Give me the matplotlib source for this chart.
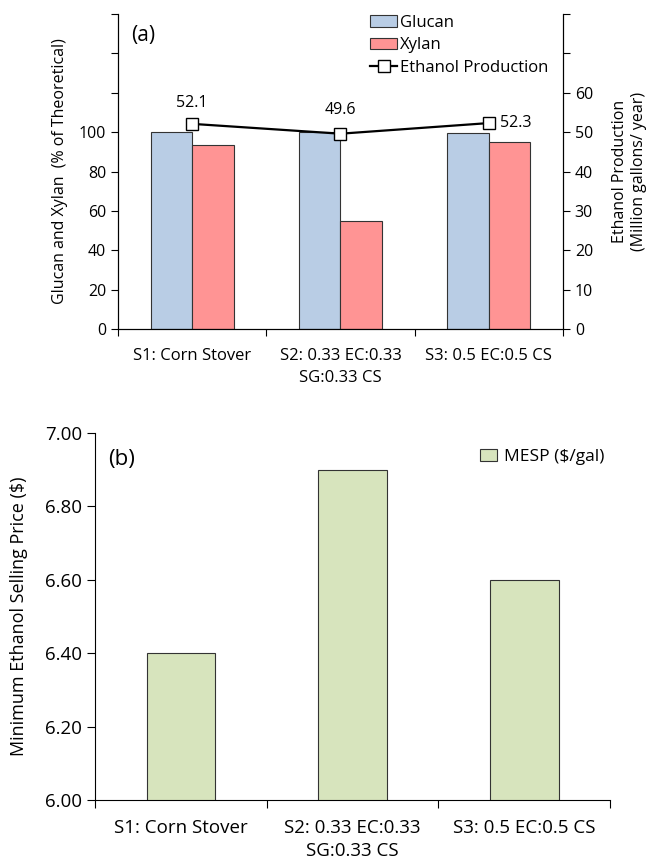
import matplotlib.pyplot as plt
import numpy as np

plt.rcParams['font.family'] = ['Open Sans', 'DejaVu Sans']

scenarios = ['S1: Corn Stover', 'S2: 0.33 EC:0.33\nSG:0.33 CS', 'S3: 0.5 EC:0.5 CS']
glucan = [100, 100, 99.5]
xylan = [93.5, 55, 95]
ethanol = [52.1, 49.6, 52.3]
mesp = [6.40, 6.90, 6.60]

blue = '#b9cde5'
red = '#ff9494'
green = '#d7e4bd'

fig = plt.figure(figsize=(6.54, 8.64), dpi=100)

# (a) glucan / xylan with ethanol on twin axis
ax1 = fig.add_axes([0.1804, 0.6192, 0.6804, 0.3646])
x = np.arange(len(scenarios))
w = 0.28
ax1.bar(x - w/2, glucan, w, color=blue, edgecolor='#333333', linewidth=0.8, label='Glucan')
ax1.bar(x + w/2, xylan, w, color=red, edgecolor='#333333', linewidth=0.8, label='Xylan')
ax1.set_xlim(-0.5, 2.5)
ax1.set_ylim(0, 160)
ax1.set_yticks(range(0, 161, 20))
ax1.set_yticklabels([str(v) if v <= 100 else '' for v in range(0, 161, 20)])
ax1.set_xticks([-0.5, 0.5, 1.5, 2.5], minor=False)
ax1.set_xticklabels([])
ax1.set_xticks(x, minor=True)
ax1.set_xticklabels(scenarios, minor=True, fontsize=12, linespacing=1.5)
ax1.tick_params(axis='x', which='minor', length=0, pad=14)
ax1.tick_params(axis='x', which='major', length=5)
ax1.tick_params(axis='y', labelsize=11.5, length=5)
ax1.spines['top'].set_visible(False)
ax1.set_ylabel('Glucan and Xylan  (% of Theoretical)', fontsize=11.5, labelpad=8)
ax1.text(0.03, 0.965, '(a)', transform=ax1.transAxes, fontsize=15, va='top')

ax2 = ax1.twinx()
ax2.plot(x, ethanol, color='black', lw=1.6, marker='s', markersize=9,
         markerfacecolor='white', markeredgecolor='black', label='Ethanol Production')
ax2.set_ylim(0, 80)
ax2.set_yticks(range(0, 81, 10))
ax2.set_yticklabels([str(v) if v <= 60 else '' for v in range(0, 81, 10)])
ax2.tick_params(axis='y', labelsize=11.5, length=5)
ax2.spines['top'].set_visible(False)
ax2.set_ylabel('Ethanol Production\n(Million gallons/ year)', fontsize=11.5, labelpad=14)
ax2.annotate(f'{ethanol[0]}', (x[0], ethanol[0]), xytext=(0, 12), textcoords='offset points',
             ha='center', fontsize=11.5)
ax2.annotate(f'{ethanol[1]}', (x[1], ethanol[1]), xytext=(0, 14), textcoords='offset points',
             ha='center', fontsize=11.5)
ax2.annotate(f'{ethanol[2]}', (x[2], ethanol[2]), xytext=(8, 0), textcoords='offset points',
             ha='left', va='center', fontsize=11.5)

h1, l1 = ax1.get_legend_handles_labels()
h2, l2 = ax2.get_legend_handles_labels()
ax1.legend(h1 + h2, l1 + l2, loc='upper right', bbox_to_anchor=(1.0, 1.045), frameon=False,
           fontsize=12, handlelength=1.6, handletextpad=0.15, labelspacing=0.4)

# (b) MESP
ax3 = fig.add_axes([0.1453, 0.0741, 0.7875, 0.4248])
ax3.bar(x, mesp, 0.4, color=green, edgecolor='#333333', linewidth=0.8, label='MESP ($/gal)')
ax3.set_xlim(-0.5, 2.5)
ax3.set_ylim(6.0, 7.0)
ax3.set_yticks(np.arange(6.0, 7.01, 0.2))
ax3.set_yticklabels([f'{v:.2f}' for v in np.arange(6.0, 7.01, 0.2)])
ax3.set_xticks([-0.5, 0.5, 1.5, 2.5])
ax3.set_xticklabels([])
ax3.set_xticks(x, minor=True)
ax3.set_xticklabels(scenarios, minor=True, fontsize=13.5, linespacing=1.35)
ax3.tick_params(axis='x', which='minor', length=0, pad=14)
ax3.tick_params(axis='x', which='major', length=6)
ax3.tick_params(axis='y', labelsize=13.5, length=6)
ax3.spines['top'].set_visible(False)
ax3.spines['right'].set_visible(False)
ax3.set_ylabel('Minimum Ethanol Selling Price ($)', fontsize=13, labelpad=12)
ax3.text(0.025, 0.955, '(b)', transform=ax3.transAxes, fontsize=16, va='top')
ax3.legend(loc='upper right', bbox_to_anchor=(1.02, 1.0), frameon=False, fontsize=12.5,
           handlelength=1.0, handletextpad=0.4)

fig.savefig('out.png', dpi=100)
